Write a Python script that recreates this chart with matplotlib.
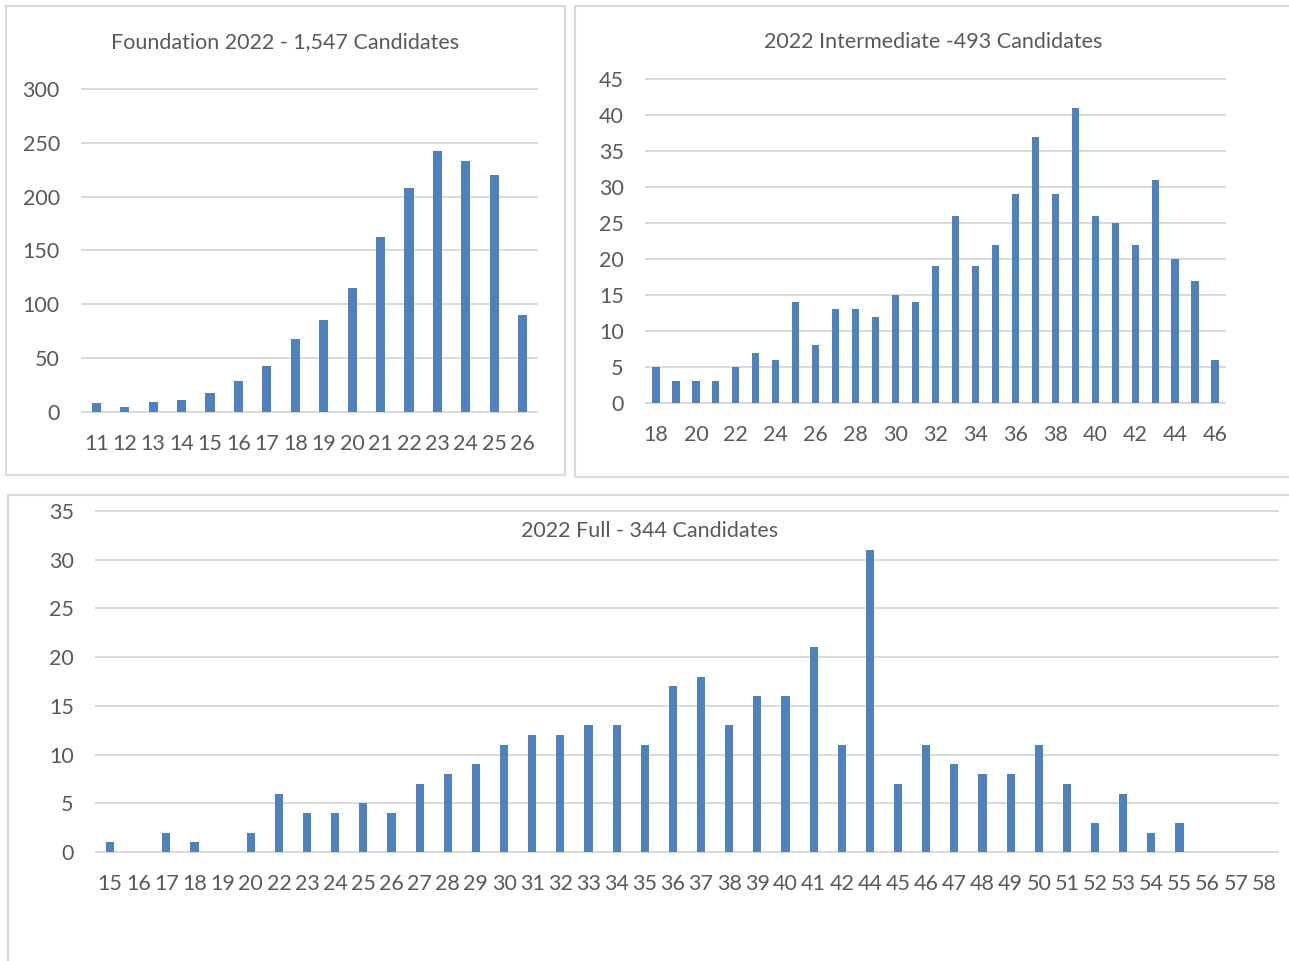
import matplotlib
matplotlib.use('Agg')
import matplotlib.pyplot as plt
from matplotlib.patches import Rectangle

plt.rcParams['font.family'] = ['Lato', 'DejaVu Sans']

# Data
foundation_marks = [str(m) for m in range(11, 27)]
foundation_counts = [8, 5, 9, 11, 18, 29, 43, 68, 85, 115, 163, 208, 242, 233, 220, 90]

inter_marks = [str(m) for m in range(18, 47)]
inter_counts = [5, 3, 3, 3, 5, 7, 6, 14, 8, 13, 13, 12, 15, 14, 19, 26, 19, 22,
                29, 37, 29, 41, 26, 25, 22, 31, 20, 17, 6]

full_marks = ['15', '16', '17', '18', '19', '20', '22', '23', '24', '25', '26', '27',
              '28', '29', '30', '31', '32', '33', '34', '35', '36', '37', '38', '39',
              '40', '41', '42', '44', '45', '46', '47', '48', '49', '50', '51', '52',
              '53', '54', '55', '56', '57', '58']
full_counts = [1, 0, 2, 1, 0, 2, 6, 4, 4, 5, 4, 7, 8, 9, 11, 12, 12, 13, 13, 11, 17,
               18, 13, 16, 16, 21, 11, 31, 7, 11, 9, 8, 8, 11, 7, 3, 6, 2, 3, 0, 0, 0]

W, H = 1289, 961
BAR = '#4F81BD'
GRID = '#D9D9D9'
TXT = '#595959'
FS = 15.5

fig = plt.figure(figsize=(W / 100, H / 100), dpi=100)


def px_axes(x0, y0, x1, y1):
    return fig.add_axes([x0 / W, 1 - y1 / H, (x1 - x0) / W, (y1 - y0) / H])


def panel_box(x0, y0, x1, y1):
    fig.add_artist(Rectangle((x0 / W, 1 - y1 / H), (x1 - x0) / W, (y1 - y0) / H,
                             transform=fig.transFigure, fill=False,
                             edgecolor=GRID, linewidth=1.5))


def style(ax, yticks, labels, counts, width, every=1):
    x = range(len(labels))
    ax.bar(x, counts, width=width, color=BAR, zorder=3)
    ax.set_xlim(-0.5, len(labels) - 0.5)
    ax.set_ylim(0, yticks[-1])
    for y in yticks:
        ax.axhline(y, color=GRID, linewidth=1.4, zorder=0, clip_on=False)
    ax.set_yticks(yticks)
    ax.set_xticks(list(x)[::every])
    ax.set_xticklabels(labels[::every])
    for s in ax.spines.values():
        s.set_visible(False)
    ax.tick_params(axis='y', length=0, pad=16, labelsize=FS, labelcolor=TXT)
    ax.tick_params(axis='x', length=0, pad=16, labelsize=FS, labelcolor=TXT)
    ax.patch.set_alpha(0)


# Panel borders
panel_box(6, 6, 565, 475)
panel_box(575, 6, 1295, 477)
panel_box(8, 495, 1295, 970)

# Foundation
ax1 = px_axes(82, 89, 537, 412)
style(ax1, [0, 50, 100, 150, 200, 250, 300], foundation_marks, foundation_counts, 0.32)
fig.text(285 / W, 1 - 42 / H, 'Foundation 2022 - 1,547 Candidates',
         ha='center', va='center', fontsize=FS, color=TXT)

# Intermediate
ax2 = px_axes(646, 79, 1225, 403)
style(ax2, list(range(0, 46, 5)), inter_marks, inter_counts, 0.36, every=2)
fig.text(933 / W, 1 - 42 / H, '2022 Intermediate -493 Candidates',
         ha='center', va='center', fontsize=FS, color=TXT)

# Full
ax3 = px_axes(96, 511, 1278, 852)
style(ax3, list(range(0, 36, 5)), full_marks, full_counts, 0.29)
fig.text(650 / W, 1 - 531 / H, '2022 Full - 344 Candidates',
         ha='center', va='center', fontsize=FS, color=TXT)

fig.savefig('out.png', dpi=100)
